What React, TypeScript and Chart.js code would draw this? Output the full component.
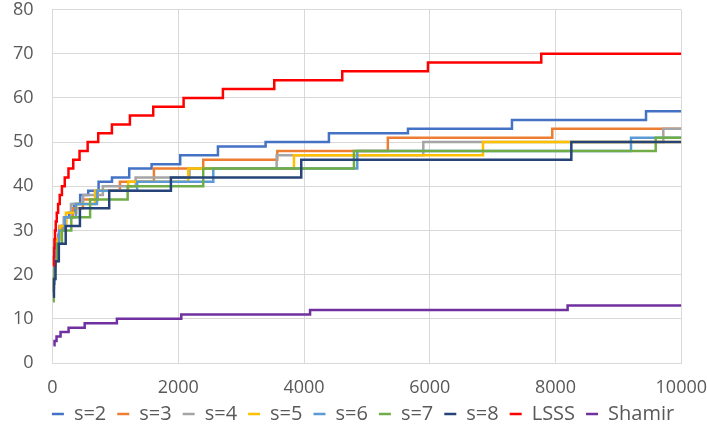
import React, { useEffect, useRef } from 'react';
import { Chart, registerables } from 'chart.js';

Chart.register(...registerables);

const X_MAX = 10000;

const S2_X = [12, 20, 27, 34, 44, 57, 74, 95, 123, 159, 205, 264, 341, 440, 568, 733, 946, 1220, 1576, 2031, 2631, 3389, 4396, 5653, 7307, 9439];
const S2_Y = [16, 18, 20, 22, 23, 25, 27, 29, 30, 31, 33, 34, 36, 38, 39, 41, 42, 44, 45, 47, 49, 50, 52, 53, 55, 57];

const S3_X = [13, 20, 30, 44, 66, 98, 146, 217, 324, 483, 720, 1072, 1613, 2397, 3575, 5333, 7948];
const S3_Y = [16, 19, 22, 25, 27, 29, 31, 33, 35, 37, 39, 41, 44, 46, 48, 51, 53];

const S4_X = [15, 24, 40, 65, 108, 178, 294, 486, 801, 1322, 2180, 3565, 5897, 9714];
const S4_Y = [17, 21, 25, 28, 31, 33, 36, 38, 40, 42, 44, 47, 50, 53];

const S5_X = [12, 21, 38, 67, 120, 213, 380, 676, 1204, 2159, 3840, 6846];
const S5_Y = [17, 21, 25, 28, 31, 34, 36, 39, 41, 44, 47, 50];

const S6_X = [15, 29, 54, 103, 196, 373, 708, 1346, 2557, 4847, 9200];
const S6_Y = [18, 23, 27, 30, 33, 36, 39, 41, 44, 48, 51];

const S7_X = [9, 19, 37, 75, 150, 299, 598, 1195, 2397, 4794, 9593];
const S7_Y = [14, 19, 23, 27, 30, 33, 37, 40, 44, 48, 51];

const S8_X = [11, 23, 48, 101, 210, 436, 902, 1883, 3956, 8251];
const S8_Y = [15, 19, 23, 27, 31, 35, 39, 42, 46, 50];

const LSSS_X = [14, 18, 24, 31, 40, 52, 68, 89, 115, 150, 195, 254, 330, 430, 559, 727, 945, 1231, 1602, 2085, 2710, 3527, 4608, 5971, 7773];
const LSSS_Y = [22, 24, 26, 28, 30, 32, 34, 36, 38, 40, 42, 44, 46, 48, 50, 52, 54, 56, 58, 60, 62, 64, 66, 68, 70];

const SHAMIR_X = [16, 32, 64, 128, 256, 512, 1024, 2048, 4096, 8192];
const SHAMIR_Y = [4, 5, 6, 7, 8, 9, 10, 11, 12, 13];

const NAMES = ['s=2', 's=3', 's=4', 's=5', 's=6', 's=7', 's=8', 'LSSS', 'Shamir'];
const XS = [S2_X, S3_X, S4_X, S5_X, S6_X, S7_X, S8_X, LSSS_X, SHAMIR_X];
const YS = [S2_Y, S3_Y, S4_Y, S5_Y, S6_Y, S7_Y, S8_Y, LSSS_Y, SHAMIR_Y];
const COLORS = ['#4472C4', '#ED7D31', '#A5A5A5', '#FFC000', '#5B9BD5', '#70AD47', '#264478', '#FF0000', '#7030A0'];

function toPoints(xs: number[], ys: number[]) {
  const pts = xs.map((x, i) => ({ x, y: ys[i] }));
  pts.push({ x: X_MAX, y: ys[ys.length - 1] });
  return pts;
}

export default function App() {
  const ref = useRef<HTMLCanvasElement | null>(null);

  useEffect(() => {
    document.body.style.margin = '0';
    const canvas = ref.current;
    if (!canvas) return;
    const FONT = "'Open Sans', 'Noto Sans', sans-serif";
    const datasets = NAMES.map((name, i) => ({
      label: name,
      data: toPoints(XS[i], YS[i]),
      borderColor: COLORS[i],
      backgroundColor: COLORS[i],
      borderWidth: 2.5,
      pointRadius: 0,
      pointHoverRadius: 0,
      pointStyle: 'line' as const,
      stepped: 'before' as const,
      fill: false,
      order: NAMES.length - 1 - i,
    }));
    const chart = new Chart(canvas, {
      type: 'line',
      data: { datasets },
      options: {
        responsive: false,
        animation: false,
        layout: { padding: { top: 0, right: 0, bottom: 5, left: 19 } },
        plugins: {
          tooltip: { enabled: false },
          legend: {
            position: 'bottom',
            labels: {
              usePointStyle: true,
              pointStyle: 'line',
              pointStyleWidth: 12,
              boxHeight: 12,
              padding: 11,
              color: '#595959',
              font: { family: FONT, size: 20 },
              sort: (a: any, b: any) => a.datasetIndex - b.datasetIndex,
            },
          },
        },
        scales: {
          x: {
            type: 'linear',
            min: 0,
            max: X_MAX,
            ticks: {
              stepSize: 2000,
              color: '#595959',
              padding: 16,
              maxRotation: 0,
              font: { family: FONT, size: 18, lineHeight: 1 },
              callback: (v: any) => String(v),
            },
            grid: { color: '#d9d9d9', lineWidth: 1, drawTicks: false },
            border: { color: '#d9d9d9', width: 1 },
            afterFit: (s: any) => {
              s.height = 30;
              s.paddingLeft = 0;
              s.paddingRight = 25.7;
            },
          },
          y: {
            min: 0,
            max: 80,
            ticks: {
              stepSize: 10,
              color: '#595959',
              padding: 19,
              font: { family: FONT, size: 18, lineHeight: 1 },
            },
            grid: { color: '#d9d9d9', lineWidth: 1, drawTicks: false },
            border: { color: '#d9d9d9', width: 1 },
            afterFit: (s: any) => {
              s.width = 33.5;
              s.paddingTop = 9.5;
              s.paddingBottom = 0;
              // the labels hang to the left of this narrow box; do not clip them
              s._computeLabelArea = () => undefined;
            },
          },
        },
      },
    });
    return () => chart.destroy();
  }, []);

  return (
    <div style={{ width: 707, height: 439 }}>
      <canvas ref={ref} width={707} height={439} style={{ display: 'block' }} />
    </div>
  );
}
